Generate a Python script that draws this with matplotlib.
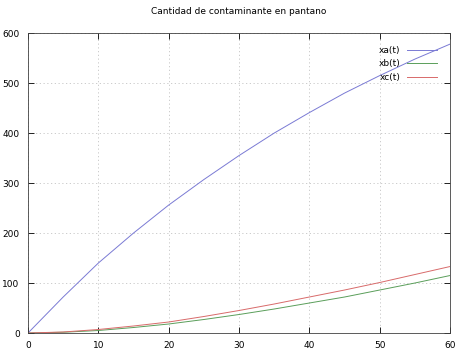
import matplotlib.pyplot as plt

t = [0, 5, 10, 15, 20, 25, 30, 35, 40, 45, 50, 55, 60]
xa = [0, 72, 140, 200, 256, 307, 355, 400, 441, 480, 515, 548, 578]
xb = [0, 1.5, 5, 11, 18, 27, 37, 48, 60, 72, 86, 100, 115]
xc = [0, 2, 7, 14, 22, 33, 45, 58, 72, 86, 101, 117, 133]

fig = plt.figure(figsize=(4.63, 3.56), dpi=100)
ax = fig.add_axes([0.0605, 0.0646, 0.9115, 0.8424])

ax.plot(t, xa, color="#7a7ad4", lw=0.7, label="xa(t)")
ax.plot(t, xb, color="#5a9e5a", lw=0.7, label="xb(t)")
ax.plot(t, xc, color="#d86a6a", lw=0.7, label="xc(t)")

ax.set_xlim(0, 60)
ax.set_ylim(0, 600)
ax.set_xticks(range(0, 61, 10))
ax.set_yticks(range(0, 601, 100))
ax.grid(True, color="#c4c4c4", ls=(0, (1.5, 3)), lw=0.6)
ax.tick_params(direction="in", top=True, right=True, labelsize=6.5, length=4, width=0.6, pad=6)
for s in ax.spines.values():
    s.set_linewidth(0.6)
    s.set_color("#404040")

ax.set_title("Cantidad de contaminante en pantano", fontsize=6.5, pad=14)
ax.legend(loc="upper right", frameon=False, markerfirst=False, fontsize=6.5,
          handlelength=3.4, labelspacing=0.5, borderaxespad=1.0, handletextpad=0.7)

fig.savefig("out.png", dpi=100)
